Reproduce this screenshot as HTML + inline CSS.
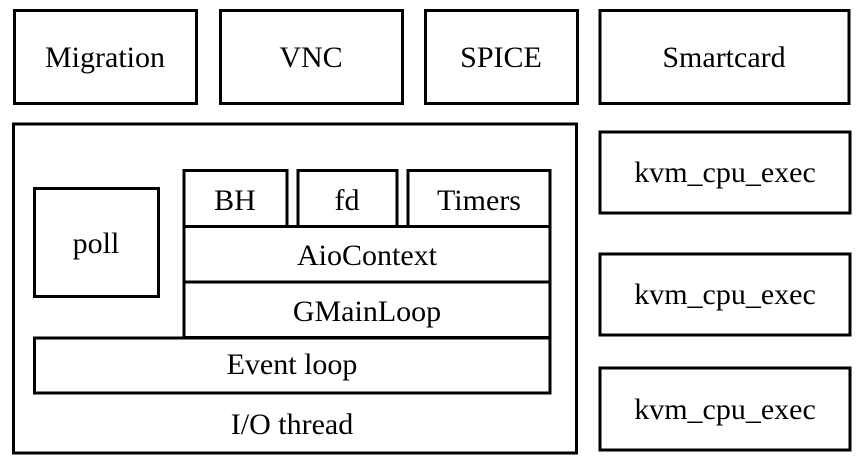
<!DOCTYPE html>
<html><head><style>html,body{margin:0;padding:0;background:#fff}svg{display:block}</style></head>
<body>
<svg width="859" height="471" xmlns="http://www.w3.org/2000/svg" font-family="'Liberation Serif', serif" font-size="30" text-anchor="middle">
<g fill="none" stroke="#000" stroke-width="3">
<rect x="14.5" y="10.5" width="182" height="93"/>
<rect x="220.5" y="10.5" width="182" height="93"/>
<rect x="425.5" y="10.5" width="152" height="93"/>
<rect x="600" y="10.5" width="249" height="93"/>
<rect x="13.5" y="124" width="563" height="329"/>
<rect x="600" y="132" width="250" height="81"/>
<rect x="600" y="254" width="250" height="81"/>
<rect x="600" y="368" width="250" height="82"/>
<rect x="34.5" y="188.5" width="124" height="108"/>
<rect x="184" y="170.5" width="103" height="56"/>
<rect x="298" y="170.5" width="99" height="56"/>
<rect x="408" y="170.5" width="142" height="56"/>
<rect x="184" y="226.5" width="366" height="55.5"/>
<rect x="184" y="282" width="366" height="55.5"/>
<rect x="34.5" y="338" width="515.5" height="55"/>
</g>
<g fill="#000">
<text x="105" y="67">Migration</text>
<text x="311" y="67">VNC</text>
<text x="501" y="67">SPICE</text>
<text x="724" y="67">Smartcard</text>
<text x="725" y="182">kvm_cpu_exec</text>
<text x="725" y="304">kvm_cpu_exec</text>
<text x="725" y="419">kvm_cpu_exec</text>
<text x="96" y="253">poll</text>
<text x="235" y="210">BH</text>
<text x="347" y="210">fd</text>
<text x="479" y="210">Timers</text>
<text x="367" y="265">AioContext</text>
<text x="367" y="321">GMainLoop</text>
<text x="292" y="374">Event loop</text>
<text x="292" y="434">I/O thread</text>
</g>
</svg>
</body></html>
